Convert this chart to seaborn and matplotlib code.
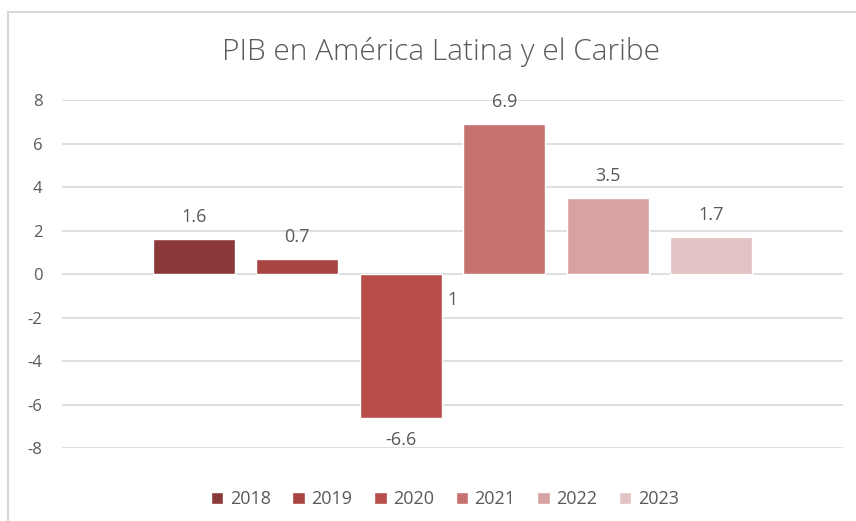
import pandas as pd
import seaborn as sns
import matplotlib.pyplot as plt
from matplotlib.patches import Rectangle

# PIB growth, one bar per year
years = ['2018', '2019', '2020', '2021', '2022', '2023']
values = [1.6, 0.7, -6.6, 6.9, 3.5, 1.7]
colors = ['#8B3838', '#A84442', '#B84D4A', '#C67270', '#D7A2A1', '#E3C2C3']
yticks = [-8, -6, -4, -2, 0, 2, 4, 6, 8]
# stray label shown beside the 2020 bar in the original chart
stray_label = '1'
stray_y = -1.2

df = pd.DataFrame({'grupo': ['PIB'] * len(years), 'year': years, 'value': values})

sns.set_style('white')
plt.rcParams['font.family'] = ['Open Sans', 'DejaVu Sans']
text_color = '#595959'

fig = plt.figure(figsize=(8.56, 5.21), dpi=100)
ax = fig.add_axes([0.0724, 0.140, 0.9126, 0.668])

sns.barplot(data=df, x='grupo', y='value', hue='year', palette=colors,
            width=0.795, gap=0.21, saturation=1, ax=ax, legend=True)

ax.set_ylim(-8, 8)
ax.set_xlim(-0.5, 0.5)
ax.set_yticks(yticks)
ax.set_yticklabels([str(t) for t in yticks], color=text_color, fontsize=12)
ax.tick_params(axis='y', length=0, pad=14)
ax.set_xticks([])
ax.set_xlabel('')
ax.set_ylabel('')
ax.grid(axis='y', color='#D9D9D9', linewidth=1.2)
ax.set_axisbelow(True)
for s in ax.spines.values():
    s.set_visible(False)

# data labels
for cont, v in zip(ax.containers, values):
    bar = cont[0]
    x = bar.get_x() + bar.get_width() / 2
    off = 16 if v >= 0 else -16
    ax.annotate(f'{v:g}', (x, v), xytext=(0, off), textcoords='offset points',
                ha='center', va='center', fontsize=13, color=text_color)

bar2020 = ax.containers[2][0]
ax.annotate(stray_label, (bar2020.get_x() + bar2020.get_width(), stray_y),
            xytext=(8, 0), textcoords='offset points',
            ha='center', va='center', fontsize=13, color=text_color)

fig.text(0.515, 0.90, 'PIB en América Latina y el Caribe', fontsize=21.5,
         color=text_color, ha='center', va='center', fontweight='light')

leg = ax.legend(loc='upper center', bbox_to_anchor=(0.49, -0.075), ncol=6,
                frameon=False, fontsize=13, handlelength=0.7, handleheight=0.7,
                handletextpad=0.35, columnspacing=1.2)
for t in leg.get_texts():
    t.set_color(text_color)

# chart frame
fig.patches.append(Rectangle((8 / 856, -0.05), 1.0, 0.05 + 1 - 12 / 521,
                             transform=fig.transFigure, fill=False,
                             edgecolor='#D9D9D9', linewidth=1.5))

fig.savefig('out.png', dpi=100)
